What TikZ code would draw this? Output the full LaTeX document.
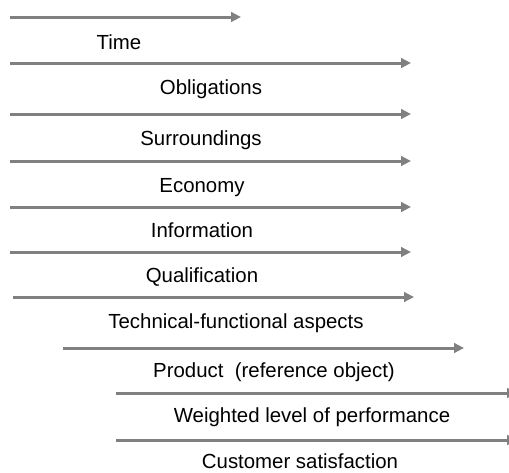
\documentclass[tikz,border=0pt]{standalone}
\usepackage{fontspec}
\setmainfont{Liberation Sans}
\usetikzlibrary{arrows.meta}
\definecolor{arrgray}{RGB}{128,128,128}
\tikzset{
  flow/.style={draw=arrgray, line width=1.5pt, -{Triangle[length=5pt,width=4.8pt]}},
  lbl/.style={anchor=base, inner sep=0pt, font=\fontsize{10.2}{12}\selectfont, text=black}
}
\begin{document}
\begin{tikzpicture}[x=0.5pt,y=-0.5pt]
\useasboundingbox (0,0) rectangle (509,472);
\clip (0,0) rectangle (509,472);
% arrow endpoints
\coordinate (s1) at (10,17);  \coordinate (e1) at (241,17);
\coordinate (s2) at (10,63);  \coordinate (e2) at (411,63);
\coordinate (s3) at (10,114); \coordinate (e3) at (411,114);
\coordinate (s4) at (10,161); \coordinate (e4) at (411,161);
\coordinate (s5) at (10,207); \coordinate (e5) at (411,207);
\coordinate (s6) at (10,252); \coordinate (e6) at (411,252);
\coordinate (s7) at (13,297); \coordinate (e7) at (414,297);
\coordinate (s8) at (63,348); \coordinate (e8) at (464,348);
\coordinate (s9) at (116,393); \coordinate (e9) at (517,393);
\coordinate (s10) at (116,440); \coordinate (e10) at (517,440);
\foreach \i in {1,...,10} { \draw[flow] (s\i) -- (e\i); }
% labels
\node[lbl] (l1) at (119,49) {Time};
\node[lbl] (l2) at (211,94) {Obligations};
\node[lbl] (l3) at (201,145) {Surroundings};
\node[lbl] (l4) at (202,192) {Economy};
\node[lbl] (l5) at (202,237) {Information};
\node[lbl] (l6) at (202,282) {Qualification};
\node[lbl] (l7) at (236,328) {Technical-functional aspects};
\node[lbl] (l8) at (274,377) {Product\ \ (reference object)};
\node[lbl] (l9) at (312,422) {Weighted level of performance};
\node[lbl] (l10) at (300,468) {Customer satisfaction};
\end{tikzpicture}
\end{document}
